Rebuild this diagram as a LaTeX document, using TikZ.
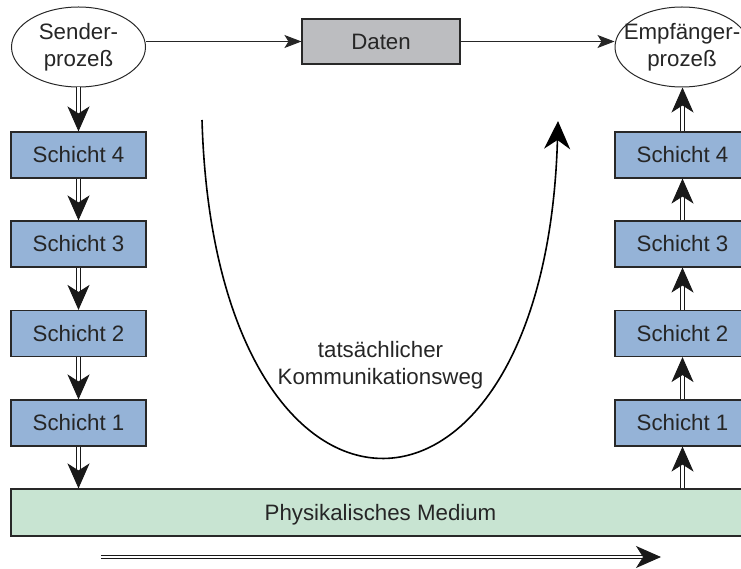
\documentclass[tikz,border=0pt]{standalone}
\usepackage{fontspec}
\setmainfont{Liberation Sans}
\usetikzlibrary{arrows.meta,shapes.geometric}
\definecolor{layerblue}{RGB}{149,179,215}
\definecolor{mediumgreen}{RGB}{200,228,210}
\definecolor{datagray}{RGB}{188,189,192}
\definecolor{edgegray}{RGB}{40,40,40}
\tikzset{
  txt/.style={font=\fontsize{22.3}{27}\selectfont, text=black!85, align=center, inner sep=0pt},
  proc/.style={ellipse, draw=edgegray, line width=1pt, fill=white, inner sep=0pt, minimum width=134pt, minimum height=80pt},
  layer/.style={txt, rectangle, draw=edgegray, line width=1.1pt, fill=layerblue, minimum width=135pt, minimum height=46pt},
  databox/.style={txt, rectangle, draw=edgegray, line width=1.1pt, fill=datagray, minimum width=158pt, minimum height=45pt},
  mediumbox/.style={txt, rectangle, draw=edgegray, line width=1.1pt, fill=mediumgreen, minimum width=739pt, minimum height=47pt, text depth=0pt},
  flow/.style={draw=black!85, line width=0.9pt, -{Stealth[length=17pt,width=13pt,inset=4pt]}},
  dblflow/.style={draw=black!90, line width=1pt, double=white, double distance=2.6pt,
    -{Stealth[length=25pt,width=22pt,inset=7pt]}},
  route/.style={draw=black, line width=1.6pt, -{Stealth[length=28pt,width=26pt,inset=9pt]}}
}
\begin{document}
\begin{tikzpicture}[x=1pt,y=-1pt]
  \useasboundingbox (0,0) rectangle (741,569);
  \clip (0,0) rectangle (741,569);

  % processes and payload
  \node[proc] (send) at (78.5,47) {};
  \node[txt] (sendtext) at (send.center) {Sender-\\prozeß};
  \node[proc] (recv) at (682,47) {};
  \node[txt] (recvtext) at (recv.center) {Empfänger-\\prozeß};
  \node[databox] (data) at (381,41.5) {Daten};

  % sending stack
  \node[layer] (l4) at (78.5,155) {Schicht 4};
  \node[layer] (l3) at (78.5,244) {Schicht 3};
  \node[layer] (l2) at (78.5,333.5) {Schicht 2};
  \node[layer] (l1) at (78.5,423) {Schicht 1};

  % receiving stack
  \node[layer] (r4) at (682.5,155) {Schicht 4};
  \node[layer] (r3) at (682.5,244) {Schicht 3};
  \node[layer] (r2) at (682.5,333.5) {Schicht 2};
  \node[layer] (r1) at (682.5,423) {Schicht 1};

  % transmission medium
  \node[mediumbox] (med) at (380.5,512.5) {Physikalisches Medium};

  % logical data path
  \draw[flow] (send.east |- data.west) -- (data.west);
  \draw[flow] (data.east) -- (recv.west |- data.east);

  % down the sending stack
  \draw[dblflow] (send.south) -- (l4.north);
  \draw[dblflow] (l4.south) -- (l3.north);
  \draw[dblflow] (l3.south) -- (l2.north);
  \draw[dblflow] (l2.south) -- (l1.north);
  \draw[dblflow] (l1.south) -- (l1.south |- med.north);

  % up the receiving stack
  \draw[dblflow] (r1.south |- med.north) -- (r1.south);
  \draw[dblflow] (r1.north) -- (r2.south);
  \draw[dblflow] (r2.north) -- (r3.south);
  \draw[dblflow] (r3.north) -- (r4.south);
  \draw[dblflow] (r4.north) -- (r4.north |- recv.south);

  % direction along the medium
  \coordinate (mstart) at (101,557);
  \coordinate (mend) at (661,557);
  \draw[dblflow] (mstart) -- (mend);

  % actual communication path
  \coordinate (pathin) at (202,120);
  \coordinate (pathout) at (558,121);
  \draw[route] (pathin) .. controls (215,568) and (545,568) .. (pathout);
  \node[txt] (pathlabel) at (380.5,365) {tatsächlicher\\Kommunikationsweg};
\end{tikzpicture}
\end{document}
